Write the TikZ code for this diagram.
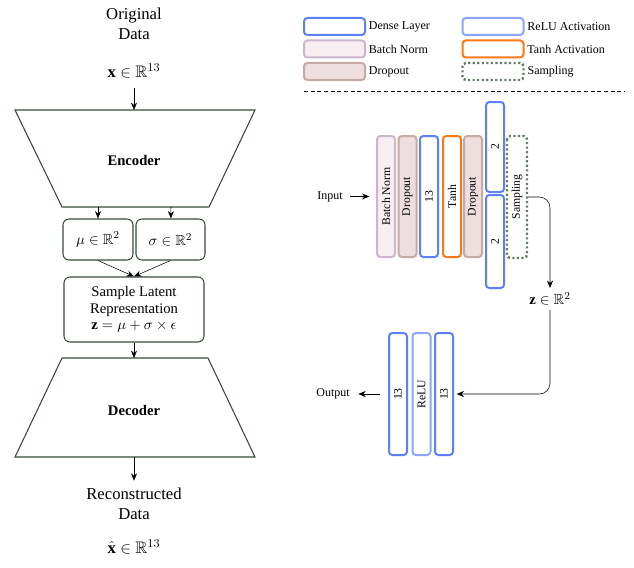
\documentclass[tikz,border=0pt]{standalone}
\usepackage{amssymb}
\usepackage{fontspec}
\setmainfont{Liberation Serif}
\usetikzlibrary{arrows.meta}
\begin{document}
\begin{tikzpicture}[x=0.75pt,y=-0.75pt,>={Stealth[length=5.5pt,width=4.5pt]}]
    \definecolor{denseblue}{RGB}{92,128,250};
    \definecolor{relublue}{RGB}{140,165,250};
    \definecolor{tanhorange}{RGB}{250,120,25};
    \definecolor{dropfill}{RGB}{238,222,224};
    \definecolor{dropline}{RGB}{198,170,165};
    \definecolor{bnfill}{RGB}{246,238,241};
    \definecolor{bnline}{RGB}{205,182,205};
    \definecolor{sampgreen}{RGB}{98,125,98};
    \definecolor{boxline}{RGB}{55,75,55};
\tikzset{
  big/.style={font=\fontsize{12.5}{15}\selectfont, align=center},
  lbl/.style={font=\fontsize{9}{11}\selectfont},
  lbox/.style={draw=boxline, line width=0.8pt, rounded corners=4.5pt, align=center, font=\fontsize{11}{12.4}\selectfont},
  layer/.style={rotate=90, inner sep=0pt, minimum height=13.5pt, font=\fontsize{8.8}{10}\selectfont},
  swatch/.style={minimum width=45.75pt, minimum height=12.75pt},
  densebox/.style={draw=denseblue, fill=white, line width=1.5pt, rounded corners=2.5pt},
  relubox/.style={draw=relublue, fill=white, line width=1.5pt, rounded corners=2.5pt},
  tanhbox/.style={draw=tanhorange, fill=white, line width=1.5pt, rounded corners=2.5pt},
  dropbox/.style={draw=dropline, fill=dropfill, line width=1.5pt, rounded corners=2.5pt},
  bnbox/.style={draw=bnline, fill=bnfill, line width=1.5pt, rounded corners=2.5pt},
  sampbox/.style={draw=sampgreen, fill=white, line width=1.8pt, dash pattern=on 1.6pt off 1.8pt, rounded corners=2.5pt}
}
\useasboundingbox (0,0) rectangle (634,567);
% left: encoder / decoder
\node (orig) [big] at (134,24) {Original\\Data};
\node (xin) [big] at (134,71) {$\mathbf{x}\in\mathbb{R}^{13}$};
\draw [draw=boxline, line width=0.8pt] (15,110) -- (255,110) -- (209,207) -- (62,207) -- cycle;
\node (enc) [font=\bfseries\fontsize{11}{13}\selectfont] at (134,160) {Encoder};
\coordinate (enctop) at (134,110);
\coordinate (encmu) at (98,207);
\coordinate (encsig) at (171,207);
\node (mu) [lbox, minimum width=52.5pt, minimum height=30.75pt] at (98,239.5) {$\mu\in\mathbb{R}^2$};
\node (sig) [lbox, minimum width=51.75pt, minimum height=30.75pt] at (170.5,239.5) {$\sigma\in\mathbb{R}^2$};
\node (latent) [lbox, minimum width=105pt, minimum height=48.75pt] at (134,309.5) {Sample Latent\\Representation\\$\mathbf{z}=\mu+\sigma\times\epsilon$};
\draw [draw=boxline, line width=0.8pt] (62,358) -- (208,358) -- (255,457) -- (15,457) -- cycle;
\node (dec) [font=\bfseries\fontsize{11}{13}\selectfont] at (134,410) {Decoder};
\coordinate (dectop) at (134,358);
\coordinate (decbot) at (134,457);
\node (recon) [big, inner sep=1pt] at (134,503.5) {Reconstructed\\Data};
\node (xout) [big] at (134,547) {$\hat{\mathbf{x}}\in\mathbb{R}^{13}$};
\draw [->, shorten <=4pt] (xin) -- (enctop);
\draw [->] (encmu) -- (mu);
\draw [->] (encsig) -- (sig);
\draw [->] (mu.south) -- (latent.north);
\draw [->] (sig.south) -- (latent.north);
\draw [->] (latent) -- (dectop);
\draw [->, shorten >=4pt] (decbot) -- (recon);
% legend
\foreach \s/\t [count=\i] in {densebox/Dense Layer, bnbox/Batch Norm, dropbox/Dropout} {
  \node (lgl\i) [\s, swatch] at (334.5,{4+22.5*\i}) {};
  \node (lglt\i) [lbl, anchor=west, inner sep=2pt] at (lgl\i.east) {\t};
}
\foreach \s/\t [count=\i] in {relubox/ReLU Activation, tanhbox/Tanh Activation, sampbox/Sampling} {
  \node (lgr\i) [\s, swatch] at (493,{4+22.5*\i}) {};
  \node (lgrt\i) [lbl, anchor=west, inner sep=2pt] at (lgr\i.east) {\t};
}
\draw [dash pattern=on 3pt off 2pt] (304,91) -- (625,91);
% encoder layers
\foreach \s/\t/\x [count=\i] in {bnbox/Batch Norm/386, dropbox/Dropout/407.5, densebox/13/429, tanhbox/Tanh/452, dropbox/Dropout/473}
  \node (e\i) [\s, layer, minimum width=90.75pt] at (\x,196.5) {\t};
\node (m1) [densebox, layer, minimum width=67.5pt] at (495,147) {2};
\node (m2) [densebox, layer, minimum width=69.75pt] at (495,241.5) {2};
\node (smp) [sampbox, layer, minimum width=91.5pt, minimum height=15pt] at (517,197) {Sampling};
\node (in) [lbl] at (330,196.5) {Input};
\draw [->, shorten <=2pt, shorten >=5pt] (in.east) -- (e1.north);
\node (z) [font=\fontsize{11}{13}\selectfont] at (550,299) {$\mathbf{z}\in\mathbb{R}^2$};
\draw [->, rounded corners=8pt] (smp.south) -| (z.north);
% decoder layers
\foreach \s/\t/\x [count=\i] in {densebox/13/398, relubox/ReLU/421.5, densebox/13/444}
  \node (d\i) [\s, layer, minimum width=91.5pt] at (\x,394) {\t};
\node (out) [lbl] at (333,394) {Output};
\draw [->, shorten <=6pt, shorten >=3pt] (d1.north) -- (out.east);
\draw [->, rounded corners=8pt, shorten >=2pt] (z.south) |- (d3.south);
\end{tikzpicture}
\end{document}
